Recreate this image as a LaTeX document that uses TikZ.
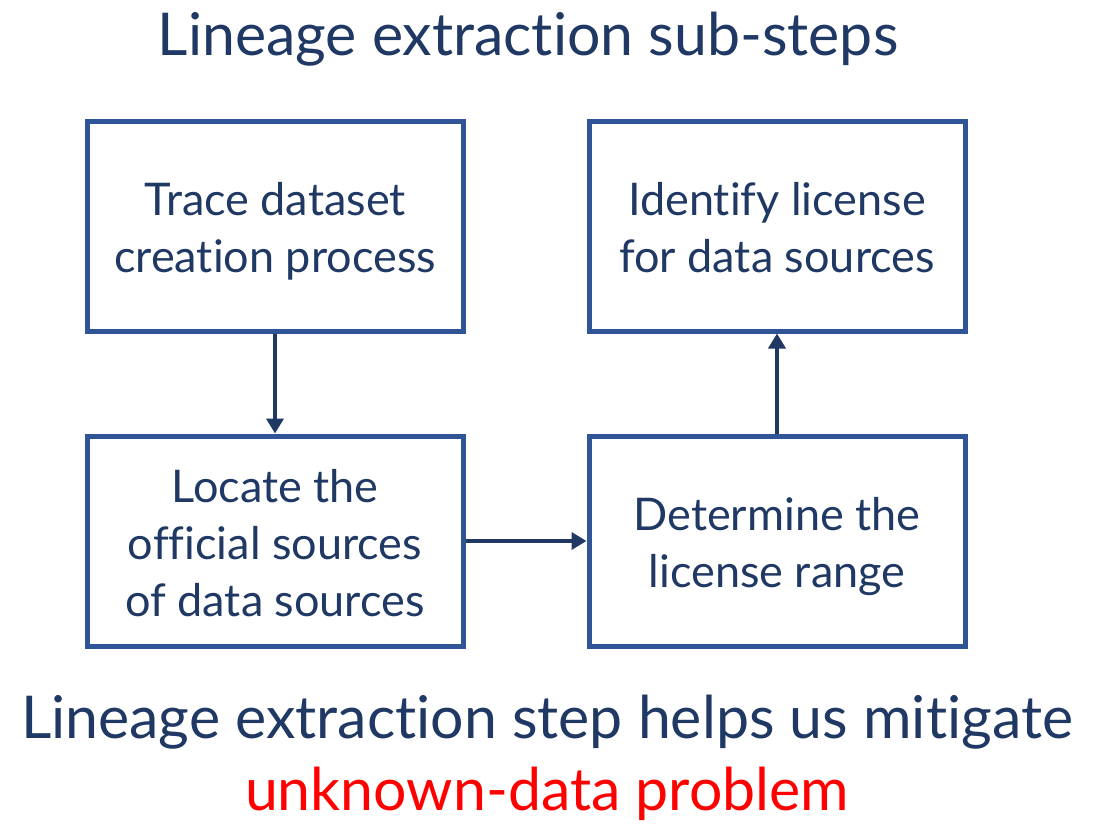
\documentclass[tikz,border=0pt]{standalone}
\usepackage{fontspec}
\setmainfont{Lato}[Ligatures=NoCommon]
\usetikzlibrary{arrows.meta}
\definecolor{navytext}{RGB}{31,56,100}
\definecolor{boxblue}{RGB}{47,85,151}
\definecolor{arrowblue}{RGB}{32,56,100}
% fixed line box so that the text block sits the same way in every box
\newcommand{\linestrut}{\rule[-9.5pt]{0pt}{55.5pt}}
\begin{document}
\begin{tikzpicture}[x=1pt,y=-1pt,
  stepbox/.style={draw=boxblue, line width=5pt, fill=white,
    minimum width=376pt, minimum height=210pt, align=center,
    text=navytext, inner sep=0pt,
    font=\fontsize{45}{57}\selectfont},
  flow/.style={draw=arrowblue, line width=4.5pt,
    -{Triangle[length=15pt,width=17pt]}},
  bigtext/.style={text=navytext, anchor=base, inner sep=0pt,
    font=\fontsize{59}{70}\selectfont}]
\useasboundingbox[fill=white] (0,0) rectangle (1104,823);

\node[bigtext] (title) at (528,55) {Lineage extraction sub-steps};

\node[stepbox] (trace) at (275,226)
  {\linestrut Trace dataset\\creation process\linestrut};
\node[stepbox] (locate) at (275,541)
  {\linestrut Locate the\\official sources\\of data sources\linestrut};
\node[stepbox] (determine) at (777,541)
  {\linestrut Determine the\\license range\linestrut};
\node[stepbox] (identify) at (777,226)
  {\linestrut Identify license\\for data sources\linestrut};

\draw[flow] (trace.south) -- (locate.north);
\draw[flow] (locate.east) -- (determine.west);
\draw[flow] (determine.north) -- (identify.south);

\node[bigtext] (summary) at (547,738) {Lineage extraction step helps us mitigate};
\node[bigtext, text=red] (problem) at (547,810) {unknown-data problem};
\end{tikzpicture}
\end{document}
